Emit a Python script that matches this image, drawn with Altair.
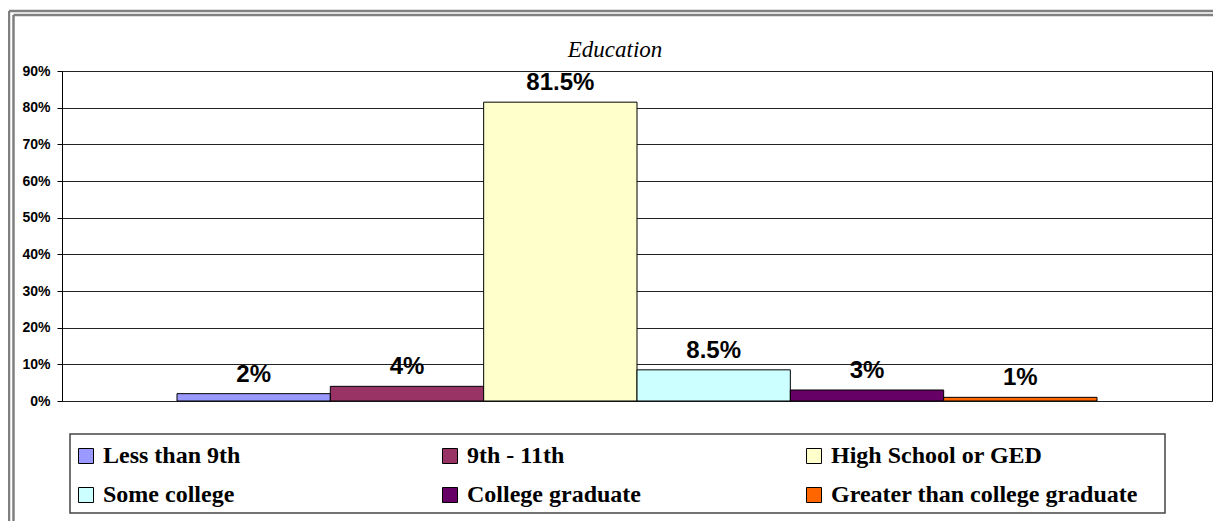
import altair as alt
import pandas as pd

# ---- data ----
categories = [
    "Less than 9th",
    "9th - 11th",
    "High School or GED",
    "Some college",
    "College graduate",
    "Greater than college graduate",
]
shares = [0.02, 0.04, 0.815, 0.085, 0.03, 0.01]
colors = ["#9999FF", "#993366", "#FFFFCC", "#CCFFFF", "#660066", "#FF6600"]
y_ticks = [0.0, 0.1, 0.2, 0.3, 0.4, 0.5, 0.6, 0.7, 0.8, 0.9]
title_text = "Education"

df = pd.DataFrame({"category": categories, "share": shares})
one = pd.DataFrame({"k": [0]})

W, H = 1150, 330
FRAME = "#808080"
SERIF = "Liberation Serif, DejaVu Serif, serif"

x_enc = alt.X(
    "category:N",
    sort=categories,
    scale=alt.Scale(paddingInner=0, paddingOuter=0.75),
    axis=None,
)
y_enc = alt.Y(
    "share:Q",
    scale=alt.Scale(domain=[0, 0.9], nice=False, zero=True),
    axis=alt.Axis(
        values=y_ticks,
        format=".0%",
        title=None,
        labelFont="Liberation Sans",
        labelFontSize=14,
        labelFontWeight="bold",
        labelColor="black",
        labelPadding=7,
        labelFlush=False,
        labelOverlap=False,
        tickColor="black",
        tickSize=5,
        domainColor="black",
        gridColor="#222222",
        gridWidth=1,
        grid=True,
    ),
)

legend = alt.Legend(
    title=None,
    orient="none",
    direction="horizontal",
    legendX=12,
    legendY=373,
    columns=3,
    gridAlign="all",
    columnPadding=28,
    rowPadding=15,
    padding=0,
    symbolType="square",
    symbolSize=225,
    symbolStrokeColor="black",
    symbolStrokeWidth=1,
    labelFont=SERIF,
    labelFontSize=24,
    labelFontWeight="bold",
    labelColor="black",
    labelOffset=5,
    labelLimit=500,
)

bars = (
    alt.Chart(df)
    .mark_bar(stroke="black", strokeWidth=1)
    .encode(
        x=x_enc,
        y=y_enc,
        color=alt.Color(
            "category:N",
            sort=categories,
            scale=alt.Scale(domain=categories, range=colors),
            legend=legend,
        ),
    )
)

labels = (
    alt.Chart(df)
    .mark_text(
        font="Liberation Sans",
        fontSize=24,
        fontWeight="bold",
        color="black",
        baseline="alphabetic",
        dy=-12,
    )
    .encode(x=x_enc, y=y_enc, text=alt.Text("share:Q", format=".1~%"))
)

title = (
    alt.Chart(one)
    .mark_text(
        font=SERIF,
        fontSize=23,
        fontStyle="italic",
        fontWeight="normal",
        color="black",
        align="center",
        baseline="alphabetic",
    )
    .encode(x=alt.value(553), y=alt.value(-14), text=alt.value(title_text))
)

# double frame around the chart area (top and left visible in the reference)
frame_lines = []
for off_x, off_y in [(-53, -60), (-48.5, -56)]:
    frame_lines.append(
        alt.Chart(one)
        .mark_rule(color=FRAME, strokeWidth=2.5)
        .encode(x=alt.value(off_x), y=alt.value(off_y), y2=alt.value(H + 125))
    )
    frame_lines.append(
        alt.Chart(one)
        .mark_rule(color=FRAME, strokeWidth=2.5)
        .encode(x=alt.value(off_x), x2=alt.value(W + 2), y=alt.value(off_y))
    )

legend_box = (
    alt.Chart(one)
    .mark_rect(fill="white", stroke="#444444", strokeWidth=1.5)
    .encode(
        x=alt.value(8), x2=alt.value(1103), y=alt.value(363), y2=alt.value(442)
    )
)

chart = (
    alt.layer(*frame_lines, legend_box, bars, labels, title)
    .properties(
        width=W,
        height=H,
        padding={"left": 54, "top": 63, "right": 1, "bottom": 120},
        autosize=alt.AutoSizeParams(type="none"),
        background="white",
    )
    .configure_view(stroke="black", strokeWidth=1)
)

chart.save("out.html", embed_options={"renderer": "svg", "actions": False})
